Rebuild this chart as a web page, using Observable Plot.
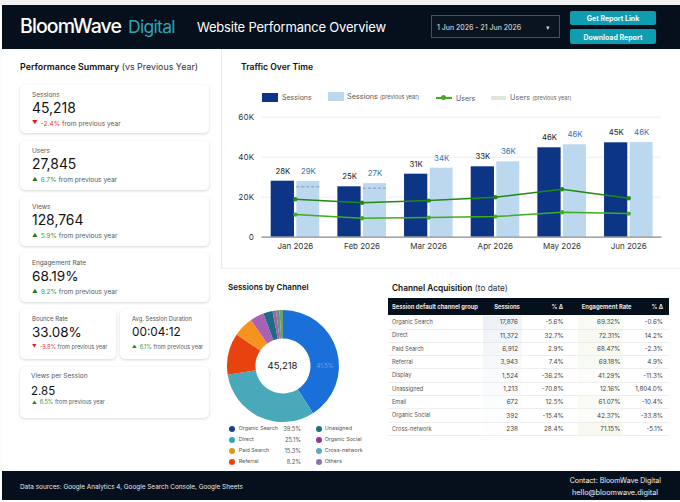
<!DOCTYPE html>
<html><head><meta charset="utf-8">
<script src="https://cdn.jsdelivr.net/npm/d3@7"></script>
<script src="https://cdn.jsdelivr.net/npm/@observablehq/plot@0.6"></script>
<style>
html,body{margin:0;padding:0;background:#fff}
#root{position:relative;width:680px;height:502px;overflow:hidden;font-family:Inter,"Noto Sans",sans-serif;color:#1a1a1a;background:#fdfdfd}
.t{position:absolute;white-space:nowrap;transform:translateY(-50%);line-height:1}
.box{position:absolute;box-sizing:border-box}
.card{background:#fff;border-radius:5px;box-shadow:0 1px 3px rgba(0,0,0,.16)}
svg{position:absolute;overflow:visible}
</style></head><body><div id="root"></div>
<script>
// ---- data ----
const months = ["Jan 2026","Feb 2026","Mar 2026","Apr 2026","May 2026","Jun 2026"];
const sessions = [28000,25200,31500,35200,44700,47200];
const sessionsPrev = [27800,26800,34500,37700,46200,47300];
const sessionLabels = ["28K","25K","31K","33K","46K","45K"];
const prevLabels = ["29K","27K","34K","36K","46K","46K"];
const usersTop = [19000,17200,18300,20000,24000,19500];
const usersBottom = [11300,9500,9800,10300,12500,11800];
const usersPrevMarks = [25200,24500];

const channels = ["Organic Search","Direct","Referral","Paid Search","Organic Social","Unassigned","Others A","Others B","Others C"];
const shares = [41,31.5,12,5.8,4,2.7,1,1,1];
const sliceColors = ["#1a6fd8","#4aa8bb","#e8420f","#f5931f","#a862b5","#1f6a8a","#a0648f","#6d8a9e","#6fa06a"];

const legendNames = ["Organic Search","Direct","Paid Search","Referral","Unasigned","Organic Social","Cross-network","Others"];
const legendValues = ["39.5%","25.1%","15.3%","8.2%","","","",""];
const legendColors = ["#1b3f90","#2fa5bf","#d99a16","#e8420f","#1f6f80","#96379a","#59aebd","#8a74b8"];

const tableChannels = ["Organic Search","Direct","Paid Search","Referral","Display","Unassigned","Email","Organic Social","Cross-network"];
const tableSessions = ["17,876","11,372","6,912","3,943","1,524","1,213","672","392","238"];
const tableSessDelta = ["-5.6%","32.7%","2.9%","7.4%","-36.2%","-70.8%","12.5%","-15.4%","28.4%"];
const tableEng = ["69.32%","72.31%","68.47%","69.18%","41.29%","12.16%","61.07%","42.37%","71.15%"];
const tableEngDelta = ["-0.6%","14.2%","-2.3%","4.9%","-11.3%","1,804.0%","-10.4%","-33.8%","-5.1%"];
const sessShade = [.30,.24,.18,.14,.10,.09,.06,.04,.03];
const engShade = [.22,.24,.21,.22,.1,.02,.18,.1,.23];

const kpis = [
 {n:"Sessions",v:"45,218",d:"-2.4%",up:false,x:20,y:85,w:189,h:48,nf:6.5,vf:13.9,df:6.6},
 {n:"Users",v:"27,845",d:"6.7%",up:true,x:20,y:141,w:189,h:49,nf:6.5,vf:13.9,df:6.6},
 {n:"Views",v:"128,764",d:"5.9%",up:true,x:20,y:197,w:189,h:49,nf:6.5,vf:13.9,df:6.6},
 {n:"Engagement Rate",v:"68.19%",d:"9.2%",up:true,x:20,y:253,w:189,h:49,nf:6.5,vf:13.6,df:6.6},
 {n:"Bounce Rate",v:"33.08%",d:"-9.8%",up:false,x:20,y:309,w:96,h:50,nf:6,vf:13.4,df:5.6},
 {n:"Avg. Session Duration",v:"00:04:12",d:"6.1%",up:true,x:120,y:309,w:89,h:50,nf:5.8,vf:11.8,df:5.6},
 {n:"Views per Session",v:"2.85",d:"6.5%",up:true,x:20,y:367,w:189,h:51,vp:true,nf:6.5,vf:11.5,df:5.6}
];

// ---- html helpers ----
const root = document.getElementById("root");
function box(x,y,w,h,css,cls){const e=document.createElement("div");e.className="box "+(cls||"");e.style.cssText=`left:${x}px;top:${y}px;width:${w}px;height:${h}px;${css||""}`;root.appendChild(e);return e;}
function t(s,x,y,css,align){const e=document.createElement("div");e.className="t";e.innerHTML=s;
 let pos=align==="r"?`right:${680-x}px;`:align==="c"?`left:${x}px;transform:translate(-50%,-50%);`:`left:${x}px;`;
 e.style.cssText=`${pos}top:${y}px;${css||""}`;root.appendChild(e);return e;}

// panels
box(0,0,680,5,"background:#f1f1f1");
box(2,49,220,422,"background:#fff;border-right:1px solid #ececec");
box(223,49,457,218,"background:#fff");
box(220,268,165,203,"background:#fff;border-top:1px solid #f0f0f0");
box(385,268,295,203,"background:#fff;border-top:1px solid #f0f0f0");

// header
box(2,5,678,44,"background:#06101c");
t("BloomWave",20,27,"font-size:19.5px;font-weight:500;color:#fff;letter-spacing:-.9px");
t("Digital",128,27,"font-size:17.5px;font-weight:400;color:#2da5b8;letter-spacing:-.7px");
t("Website Performance Overview",197,27,"font-size:13px;font-weight:400;color:#fff;letter-spacing:-.2px");
box(431,15,129,23,"border:1px solid #4a5058;background:#0a1420");
t("1 Jun 2026 - 21 Jun 2026",437,27,"font-size:7px;color:#e8e8e8");
t("▾",546,27,"font-size:7px;color:#c8c8c8");
box(570,11,86,14,"background:#0f9db2;border-radius:2px");
box(570,29,86,15,"background:#0f9db2;border-radius:2px");
t("Get Report Link",613,18,"font-size:7px;font-weight:700;color:#eefcff","c");
t("Download Report",613,36.5,"font-size:7px;font-weight:700;color:#eefcff","c");

// footer
box(2,471,678,29,"background:#06101c");
t("Data sources: Google Analytics 4, Google Search Console, Google Sheets",20,487,"font-size:6.4px;color:#e6e6e6");
t("Contact: BloomWave Digital",661,480,"font-size:7px;color:#f2f2f2","r");
t("hello@bloomwave.digital",658,493,"font-size:7.3px;color:#f2f2f2","r");

// section titles
const bw='font-weight:600;color:#111';
t(`<b style="${bw}">Performance Summary</b> <span style="color:#333">(vs Previous Year)</span>`,20,67,"font-size:8.9px");
t(`<b style="${bw}">Traffic Over Time</b>`,241,67,"font-size:8.6px");
t(`<b style="${bw}">Sessions by Channel</b>`,228,287,"font-size:8px");
t(`<b style="${bw}">Channel Acquisition</b> <span style="color:#333">(to date)</span>`,392,288,"font-size:8.3px");

// kpi cards
for(const k of kpis){
 box(k.x,k.y,k.w,k.h,"","card");
 const tx=k.x+(k.vp?11:12);
 t(k.n,tx,k.y+(k.vp?9:9.5),`font-size:${k.nf}px;color:#555`);
 t(k.v,tx,k.y+(k.vp?25:24),`font-size:${k.vf}px;color:#111`);
 const c=k.up?"#3b9a3b":"#f03030";
 const tc=k.up?"#1e7d1e":"#e81515";
 t(`<span style="color:${tc};font-size:${k.df-1}px;margin-right:3px;vertical-align:.5px">${k.up?"▲":"▼"}</span><span style="color:${c}">${k.d}</span> <span style="color:#5a5a5a">from previous year</span>`,k.x+12,k.y+(k.vp?36:38.5),`font-size:${k.df}px`);
}

// traffic legend
box(262,93,16,9,"background:#0c3585");
t("Sessions",282,96.5,"font-size:7px;color:#555");
box(328,92,16,9,"background:#bcd8ee");
t('Sessions <span style="font-size:5.5px">(previous year)</span>',347,96.5,"font-size:7.3px;color:#555");
box(436,97,16,1.6,"background:#3fae1c");
box(441,95.3,5,5,"background:#3fae1c;border-radius:50%");
t("Users",456,98,"font-size:7px;color:#555");
box(491,96,15,4,"background:#dde8d8");
t('Users <span style="font-size:5.5px">(previous year)</span>',510,98,"font-size:7.3px;color:#666");

// ---- bar + line chart ----
const rows = months.map((m,i)=>({m,s:sessions[i],p:sessionsPrev[i],sl:sessionLabels[i],pl:prevLabels[i],a:usersTop[i],b:usersBottom[i]}));
const traffic = Plot.plot({
 width:455,height:160,marginLeft:36.5,marginRight:18.5,marginTop:16.7,marginBottom:23.3,
 style:"background:transparent;font-family:Inter,sans-serif;font-size:8px;color:#333",
 x:{domain:months,padding:0,round:false,label:null,tickSize:0,tickPadding:6.5},
 y:{domain:[0,60000],ticks:[0,20000,40000,60000],label:null,tickSize:0,tickPadding:8,tickFormat:d=>d?d/1000+"K":"0"},
 marks:[
  Plot.ruleY([20000,40000,60000],{stroke:"#eeeeee"}),
  Plot.barY(rows,{x:"m",y:"s",fill:"#0c3585",insetLeft:9.2,insetRight:34.2}),
  Plot.barY(rows,{x:"m",y:"p",fill:"#bcd8ee",insetLeft:34.8,insetRight:8.9}),
  Plot.ruleY([0],{stroke:"#8a8a8a",strokeWidth:1.2}),
  Plot.tickY(usersPrevMarks.map((v,i)=>({m:months[i],v})),{x:"m",y:"v",stroke:"#7d9ab5",strokeDasharray:"3 2",strokeWidth:1,insetLeft:34.8,insetRight:8.9}),
  Plot.line(rows,{x:"m",y:"a",stroke:"#1f8a12",strokeWidth:1.5}),
  Plot.dot(rows,{x:"m",y:"a",fill:"#1f8a12",r:2.2}),
  Plot.line(rows,{x:"m",y:"b",stroke:"#3fae1c",strokeWidth:1.5}),
  Plot.dot(rows,{x:"m",y:"b",fill:"#3fae1c",r:2.2}),
  Plot.text(rows,{x:"m",y:"s",text:"sl",dx:-12.5,dy:-10,fill:"#1a1a1a",fontSize:7.8}),
  Plot.text(rows,{x:"m",y:"p",text:"pl",dx:13,dy:-10,fill:"#2f74b5",fontSize:7.8})
 ]
});
traffic.style.left="225px";traffic.style.top="100px";root.appendChild(traffic);

// ---- donut: a bar mark whose x channel is stacked shares, drawn as arcs ----
const slices = channels.map((c,i)=>({c,v:shares[i],color:sliceColors[i]}));
const total = d3.sum(shares);
const rOuter = 56, rInner = 27.5;
const donut = Plot.plot({
 width:140,height:140,margin:0,
 style:"background:transparent",
 x:{domain:[0,total],range:[0,2*Math.PI],axis:null},
 y:{axis:null},
 marks:[
  Plot.barX(slices,Plot.stackX({x:"v",fill:"color",order:null,
   render(index,scales,values,dim){
    const g=d3.create("svg:g").attr("transform",`translate(${dim.width/2},${dim.height/2})`);
    const arc=d3.arc().innerRadius(rInner).outerRadius(rOuter);
    for(const i of index) g.append("path").attr("fill",values.fill[i]).attr("d",arc({startAngle:values.x1[i],endAngle:values.x2[i]}));
    return g.node();
   }}))
 ]
});
donut.style.left=(282.5-70)+"px";donut.style.top=(365.7-70)+"px";root.appendChild(donut);
t("45,218",282.5,366,"font-size:9.5px;color:#111","c");
t("41.5%",325,366,"font-size:5.8px;color:#6ea2e8","c");

// donut legend
[429,440,451,461.7,429,440,451,461.7].forEach((y,i)=>{
 const col=i<4?232.3:318.7;
 box(col-3,y-3,6,6,`background:${legendColors[i]};border-radius:50%`);
 t(legendNames[i],i<4?238.7:324.7,y,"font-size:5.4px;color:#555");
 if(legendValues[i]) t(legendValues[i],301,y,"font-size:5.8px;color:#555","r");
});

// ---- table ----
box(388,298,281,17,"background:#06101c");
const hs="font-size:5.8px;font-weight:700;color:#e6e6e6";
t("Session default channel group",392,307,hs);
t("Sessions",507,307,hs,"c");
t("% Δ",563,307,hs,"r");
t("Engagement Rate",606.7,307,hs,"c");
t("% Δ",663,307,hs,"r");
tableChannels.forEach((c,i)=>{
 const y=322.3+13.33*i;
 box(482.7,y-6.67,39,13.33,`background:linear-gradient(90deg,rgba(190,205,225,${sessShade[i]}),rgba(190,205,225,${sessShade[i]*.7}))`);
 box(578,y-6.67,45,13.33,`background:rgba(225,235,200,${engShade[i]})`);
 box(388,y+6.2,281,.6,"background:#efefef");
 t(c,392,y+.6,"font-size:5.6px;color:#555");
 t(tableSessions[i],518,y,"font-size:6.3px;color:#444","r");
 t(tableSessDelta[i],563.7,y,"font-size:6.3px;color:#444","r");
 t(tableEng[i],620.3,y,"font-size:6.3px;color:#444","r");
 t(tableEngDelta[i],663,y,"font-size:6.3px;color:#444","r");
});
</script></body></html>
